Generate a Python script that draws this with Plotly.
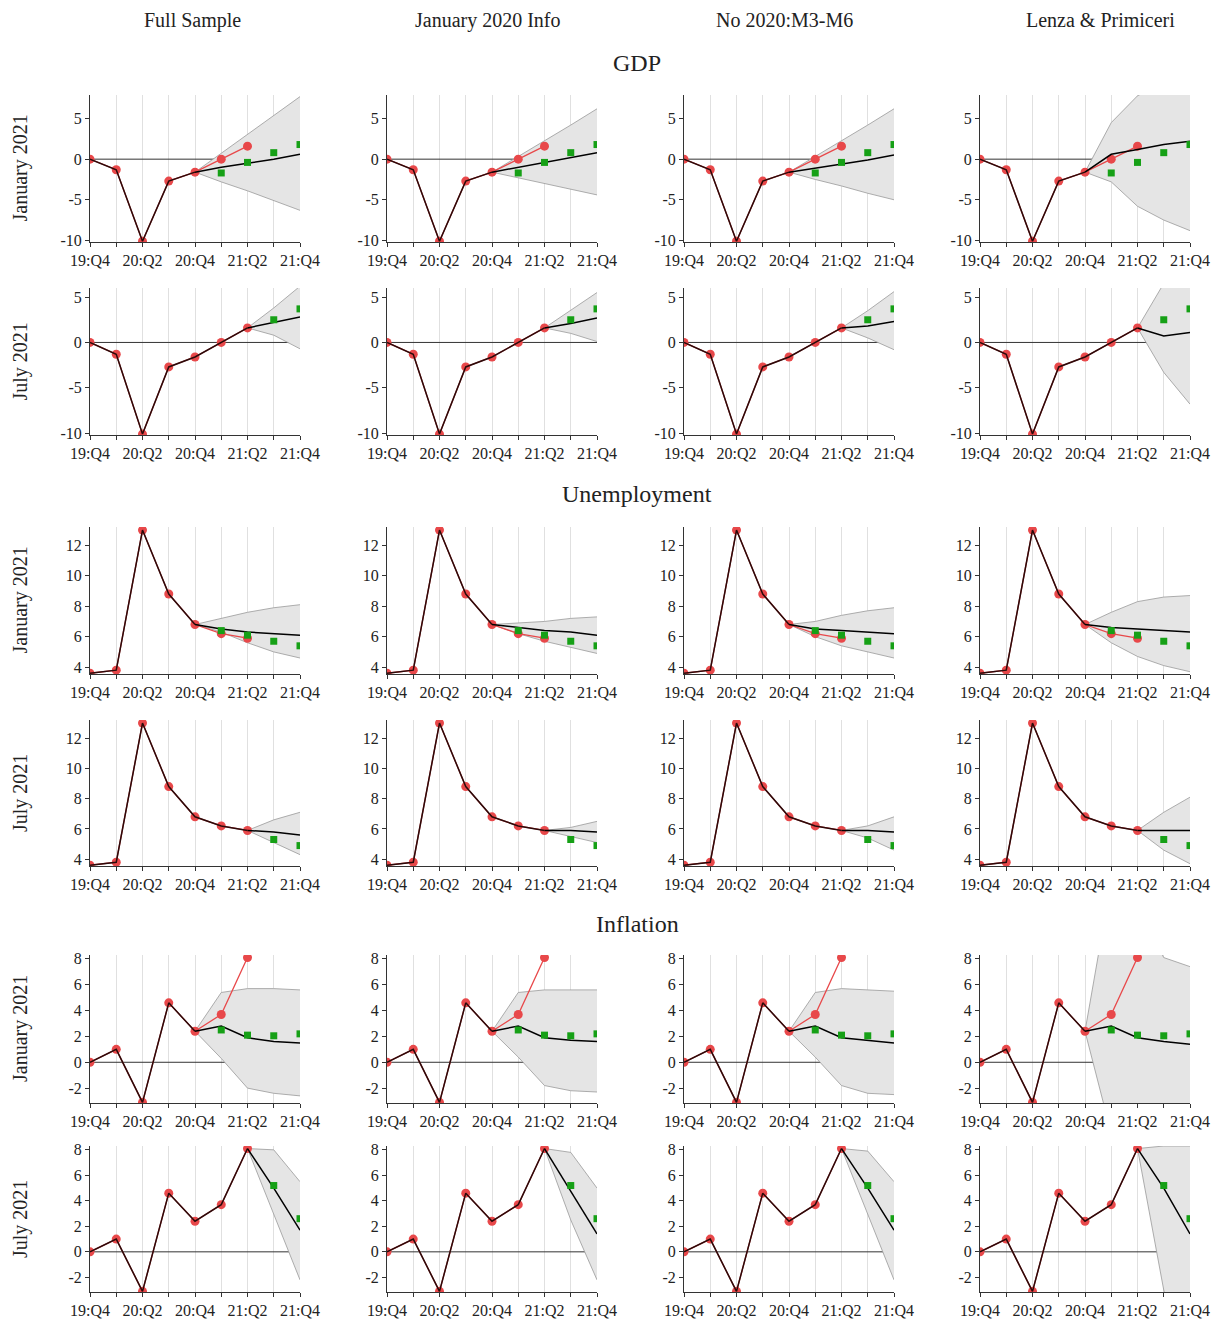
import plotly.graph_objects as go
from plotly.subplots import make_subplots

quarters = ['19:Q4', '20:Q1', '20:Q2', '20:Q3', '20:Q4', '21:Q1', '21:Q2', '21:Q3', '21:Q4']
col_titles = ['Full Sample', 'January 2020 Info', 'No 2020:M3-M6', 'Lenza & Primiceri']
row_labels = ['January 2021', 'July 2021']
var_titles = ['GDP', 'Unemployment', 'Inflation']

# realised data (19:Q4 .. 21:Q2)
gdp_act = [0.0, -1.3, -10.1, -2.7, -1.6, 0.0, 1.6]
unemp_act = [3.6, 3.8, 13.0, 8.8, 6.8, 6.2, 5.9]
infl_act = [0.0, 1.0, -3.1, 4.6, 2.4, 3.7, 8.1]

# green squares (survey forecasts)
gdp_spf_jan = [-1.7, -0.4, 0.8, 1.8]
gdp_spf_jul = [2.5, 3.7]
unemp_spf_jan = [6.4, 6.1, 5.7, 5.4]
unemp_spf_jul = [5.3, 4.9]
infl_spf_jan = [2.5, 2.1, 2.05, 2.2]
infl_spf_jul = [5.2, 2.6]

# forecasts from 20:Q4 (January) and 21:Q2 (July); one list per model
gdp_jan_med = [[-1.6, -1.0, -0.5, 0.0, 0.6], [-1.6, -1.0, -0.4, 0.2, 0.8],
               [-1.6, -1.1, -0.6, -0.1, 0.5], [-1.6, 0.6, 1.2, 1.8, 2.2]]
gdp_jan_up = [[-1.6, 0.7, 3.0, 5.4, 7.7], [-1.6, 0.3, 2.2, 4.2, 6.2],
              [-1.6, 0.3, 2.2, 4.2, 6.2], [-1.6, 4.5, 7.8, 9.5, 10.0]]
gdp_jan_lo = [[-1.6, -2.8, -3.9, -5.1, -6.3], [-1.6, -2.3, -3.0, -3.7, -4.4],
              [-1.6, -2.5, -3.3, -4.2, -5.0], [-1.6, -2.8, -5.8, -7.5, -8.8]]
gdp_jul_med = [[1.6, 2.2, 2.8], [1.6, 2.1, 2.7], [1.6, 1.8, 2.3], [1.6, 0.7, 1.1]]
gdp_jul_up = [[1.6, 3.8, 6.2], [1.6, 3.6, 5.5], [1.6, 3.5, 5.6], [1.6, 6.5, 8.5]]
gdp_jul_lo = [[1.6, 0.8, -0.7], [1.6, 1.0, 0.1], [1.6, 0.5, -0.8], [1.6, -3.3, -6.8]]

unemp_jan_med = [[6.8, 6.5, 6.3, 6.2, 6.1], [6.8, 6.6, 6.4, 6.3, 6.1],
                 [6.8, 6.5, 6.4, 6.3, 6.2], [6.8, 6.6, 6.5, 6.4, 6.3]]
unemp_jan_up = [[6.8, 7.2, 7.6, 7.9, 8.1], [6.8, 6.9, 7.0, 7.2, 7.3],
                [6.8, 7.0, 7.4, 7.7, 7.9], [6.8, 7.6, 8.3, 8.6, 8.7]]
unemp_jan_lo = [[6.8, 6.3, 5.6, 5.0, 4.6], [6.8, 6.2, 5.7, 5.3, 4.9],
                [6.8, 6.0, 5.4, 5.0, 4.6], [6.8, 5.6, 4.7, 4.1, 3.7]]
unemp_jul_med = [[5.9, 5.8, 5.6], [5.9, 5.9, 5.8], [5.9, 5.9, 5.8], [5.9, 5.9, 5.9]]
unemp_jul_up = [[5.9, 6.6, 7.1], [5.9, 6.1, 6.5], [5.9, 6.2, 6.8], [5.9, 7.1, 8.1]]
unemp_jul_lo = [[5.9, 5.1, 4.3], [5.9, 5.5, 5.1], [5.9, 5.4, 4.6], [5.9, 4.6, 3.7]]

infl_jan_med = [[2.4, 2.8, 1.9, 1.6, 1.5], [2.4, 2.8, 1.9, 1.7, 1.6],
                [2.4, 2.8, 1.9, 1.7, 1.5], [2.4, 2.8, 1.9, 1.6, 1.4]]
infl_jan_up = [[2.4, 5.4, 5.7, 5.7, 5.6], [2.4, 5.4, 5.6, 5.6, 5.6],
               [2.4, 5.4, 5.7, 5.6, 5.5], [2.4, 14.0, 12.0, 8.1, 7.4]]
infl_jan_lo = [[2.4, 0.3, -2.0, -2.4, -2.6], [2.4, 0.4, -1.8, -2.2, -2.3],
               [2.4, 0.4, -1.8, -2.4, -2.5], [2.4, -5.5, -9.0, -9.0, -9.0]]
infl_jul_med = [[8.1, 5.0, 1.7], [8.1, 4.8, 1.4], [8.1, 5.0, 1.7], [8.1, 5.0, 1.4]]
infl_jul_up = [[8.1, 8.0, 5.5], [8.1, 7.8, 5.0], [8.1, 7.9, 5.5], [8.1, 8.3, 8.3]]
infl_jul_lo = [[8.1, 3.0, -2.2], [8.1, 2.5, -2.2], [8.1, 3.0, -2.2], [8.1, -3.0, -10.0]]

panels = [
    (gdp_act, 5, gdp_spf_jan, gdp_jan_med, gdp_jan_up, gdp_jan_lo, [-10.2, 7.9], [-10, -5, 0, 5]),
    (gdp_act, 7, gdp_spf_jul, gdp_jul_med, gdp_jul_up, gdp_jul_lo, [-10.2, 6.0], [-10, -5, 0, 5]),
    (unemp_act, 5, unemp_spf_jan, unemp_jan_med, unemp_jan_up, unemp_jan_lo, [3.55, 13.2], [4, 6, 8, 10, 12]),
    (unemp_act, 7, unemp_spf_jul, unemp_jul_med, unemp_jul_up, unemp_jul_lo, [3.55, 13.2], [4, 6, 8, 10, 12]),
    (infl_act, 5, infl_spf_jan, infl_jan_med, infl_jan_up, infl_jan_lo, [-3.15, 8.3], [-2, 0, 2, 4, 6, 8]),
    (infl_act, 7, infl_spf_jul, infl_jul_med, infl_jul_up, infl_jul_lo, [-3.15, 8.3], [-2, 0, 2, 4, 6, 8]),
]

# page body has an 8px margin, so the figure is a bit smaller and positions are shifted
OFF = 8
W, H = 1220 - OFF, 1322 - OFF
col_px = [(90, 300), (387, 597), (684, 894), (980, 1190)]
row_px = [(95, 242), (288, 435), (527, 674), (720, 866), (955, 1103), (1146, 1292)]
title_x = [192, 488, 784, 1100]

def px(x):
    return (x - OFF) / W

def py(y):
    return 1 - (y - OFF) / H

RED = '#e8484a'
GREEN = '#16a016'
FONT = 'Liberation Serif'

fig = make_subplots(rows=6, cols=4)
x_all = list(range(len(quarters)))

for r, (act, n_obs, spf, med, up, lo, yr, yt) in enumerate(panels):
    for c in range(4):
        row, col = r + 1, c + 1
        start = n_obs - 1
        xf = x_all[start:start + len(med[c])]
        xs = x_all[len(x_all) - len(spf):]
        if yr[0] < 0:
            fig.add_trace(go.Scatter(x=[x_all[0], x_all[-1]], y=[0, 0], mode='lines',
                                     line=dict(color='#333333', width=1)), row=row, col=col)
        fig.add_trace(go.Scatter(x=xf, y=up[c], mode='lines',
                                 line=dict(color='#999999', width=0.8)), row=row, col=col)
        fig.add_trace(go.Scatter(x=xf, y=lo[c], mode='lines', fill='tonexty',
                                 fillcolor='rgba(229,229,229,1)',
                                 line=dict(color='#999999', width=0.8)), row=row, col=col)
        # actual data (red) incl. values released after the forecast origin
        fig.add_trace(go.Scatter(x=x_all[:len(act)], y=act, mode='lines',
                                 line=dict(color=RED, width=1.3)), row=row, col=col)
        fig.add_trace(go.Scatter(x=x_all[:len(act)], y=act, mode='markers',
                                 marker=dict(color=RED, size=9)), row=row, col=col)
        # data in the information set (black line)
        fig.add_trace(go.Scatter(x=x_all[:n_obs], y=act[:n_obs], mode='lines',
                                 line=dict(color='#2a0a0a', width=1.5)), row=row, col=col)
        fig.add_trace(go.Scatter(x=xf, y=med[c], mode='lines',
                                 line=dict(color='black', width=1.5)), row=row, col=col)
        fig.add_trace(go.Scatter(x=xs, y=spf, mode='markers',
                                 marker=dict(color=GREEN, size=7, symbol='square')), row=row, col=col)

        x0, x1 = col_px[c]
        y0, y1 = row_px[r]
        fig.update_xaxes(domain=[px(x0), px(x1)], range=[0, 8], tickvals=x_all,
                         ticktext=[q if i % 2 == 0 else '' for i, q in enumerate(quarters)],
                         showgrid=True, gridcolor='#e0e0e0', gridwidth=1, automargin=False,
                         showline=True, linecolor='#333333', ticks='outside', ticklen=4,
                         tickcolor='#333333', zeroline=False, row=row, col=col)
        fig.update_yaxes(domain=[py(y1), py(y0)], range=yr, tickvals=yt,
                         ticktext=[str(v) for v in yt], automargin=False,
                         showgrid=False, showline=True, linecolor='#333333',
                         ticks='outside', ticklen=4, tickcolor='#333333',
                         zeroline=False, row=row, col=col)

annots = []
for c, t in enumerate(col_titles):
    annots.append(dict(text=t, x=px(title_x[c]), y=py(20), xref='paper', yref='paper',
                       showarrow=False, font=dict(size=20), xanchor='center', yanchor='middle'))
for t, yp in zip(var_titles, [63, 494, 924]):
    annots.append(dict(text=t, x=px(637), y=py(yp), xref='paper', yref='paper',
                       showarrow=False, font=dict(size=24), xanchor='center', yanchor='middle'))
for r in range(6):
    y0, y1 = row_px[r]
    annots.append(dict(text=row_labels[r % 2], x=px(20), y=py((y0 + y1) / 2),
                       xref='paper', yref='paper', showarrow=False, textangle=-90,
                       font=dict(size=20), xanchor='center', yanchor='middle'))

fig.update_layout(width=W, height=H, showlegend=False, plot_bgcolor='white',
                  paper_bgcolor='white', margin=dict(l=0, r=0, t=0, b=0, autoexpand=False),
                  font=dict(family=FONT, size=16, color='#222222'), annotations=annots)
fig.write_html("out.html")
